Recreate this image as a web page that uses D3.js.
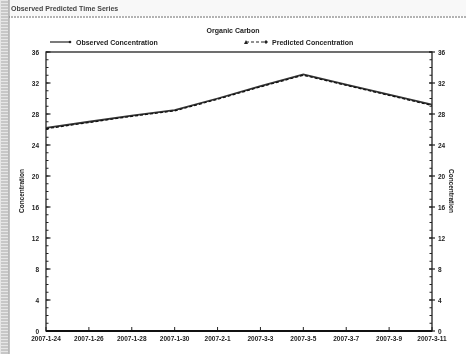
<!DOCTYPE html>
<html>
<head>
<meta charset="utf-8">
<script src="https://cdn.jsdelivr.net/npm/d3@7"></script>
<style>
  html, body { margin: 0; padding: 0; background: #fff; }
  svg { display: block; font-family: "Liberation Sans", Arial, sans-serif; filter: blur(0.35px); }
</style>
</head>
<body>
<svg id="chart" width="466" height="354"></svg>
<script>
// Sampling dates (evenly spaced categories on the x axis)
const dates = ["2007-1-24", "2007-1-26", "2007-1-28", "2007-1-30", "2007-2-1",
               "2007-3-3", "2007-3-5", "2007-3-7", "2007-3-9", "2007-3-11"];
// Organic carbon concentrations
const observed  = [26.2, 27.0, 27.8, 28.5, 30.0, 31.6, 33.1, 31.8, 30.5, 29.2];
const predicted = [26.1, 26.9, 27.7, 28.4, 29.9, 31.5, 33.0, 31.7, 30.4, 29.1];
const yTicks = [0, 4, 8, 12, 16, 20, 24, 28, 32, 36];
const yMinor = d3.range(0, 37, 1);

const svg = d3.select("#chart");
const W = 466, H = 354;
const m = { left: 46, right: 432, top: 52, bottom: 331 };

// window frame: caption strip and hatched left edge
svg.append("rect").attr("x", 0).attr("y", 0).attr("width", W).attr("height", 16).attr("fill", "#f8f8f8");
svg.append("text").attr("x", 11).attr("y", 10.5).attr("font-size", 7).attr("font-weight", "bold").attr("fill", "#444")
  .text("Observed Predicted Time Series");
svg.append("line").attr("x1", 8).attr("x2", W).attr("y1", 17).attr("y2", 17)
  .attr("stroke", "#666").attr("stroke-width", 1).attr("stroke-dasharray", "2,1");
svg.append("rect").attr("x", 0).attr("y", 0).attr("width", 9).attr("height", H).attr("fill", "#e6e6e6");
svg.append("g").selectAll("line").data(d3.range(2, H, 3)).join("line")
  .attr("x1", 1).attr("x2", 8).attr("y1", d => d).attr("y2", d => d)
  .attr("stroke", "#999").attr("stroke-width", 0.8);
svg.append("line").attr("x1", 9).attr("x2", 9).attr("y1", 0).attr("y2", H).attr("stroke", "#888");

const x = d3.scalePoint().domain(dates).range([m.left, m.right]);
const y = d3.scaleLinear().domain([0, 36]).range([m.bottom, m.top]);

// plot frame
svg.append("rect").attr("x", m.left).attr("y", m.top)
  .attr("width", m.right - m.left).attr("height", m.bottom - m.top)
  .attr("fill", "none").attr("stroke", "#222").attr("stroke-width", 1.3);

// title
svg.append("text").attr("x", 233).attr("y", 33).attr("text-anchor", "middle")
  .attr("font-size", 7).attr("font-weight", "bold").attr("fill", "#222").text("Organic Carbon");

// legend
const lg = svg.append("g").attr("font-size", 7).attr("font-weight", "bold").attr("fill", "#222");
lg.append("line").attr("x1", 50).attr("x2", 70).attr("y1", 42).attr("y2", 42).attr("stroke", "#222").attr("stroke-width", 1.2);
lg.append("circle").attr("cx", 70).attr("cy", 42).attr("r", 1.3).attr("fill", "#222");
lg.append("text").attr("x", 76).attr("y", 44.5).text("Observed Concentration");
lg.append("line").attr("x1", 246).attr("x2", 266).attr("y1", 42).attr("y2", 42).attr("stroke", "#222")
  .attr("stroke-width", 1).attr("stroke-dasharray", "3,2");
lg.append("path").attr("d", "M244,44 L246,40 L248,44 Z").attr("fill", "#222");
lg.append("path").attr("d", "M266,40 L268,42 L266,44 L264,42 Z").attr("fill", "#222");
lg.append("text").attr("x", 272).attr("y", 44.5).text("Predicted Concentration");

// left axis: minor and major ticks pointing inward
const ax = svg.append("g");
ax.selectAll("line.minL").data(yMinor).join("line")
  .attr("x1", m.left).attr("x2", m.left + 2.5).attr("y1", d => y(d)).attr("y2", d => y(d))
  .attr("stroke", "#222").attr("stroke-width", 1);
ax.selectAll("line.majL").data(yTicks).join("line")
  .attr("x1", m.left).attr("x2", m.left + 4.5).attr("y1", d => y(d)).attr("y2", d => y(d))
  .attr("stroke", "#222").attr("stroke-width", 1.2);
ax.selectAll("text.lblL").data(yTicks).join("text")
  .attr("x", 39).attr("y", d => y(d) + 2.5).attr("text-anchor", "end")
  .attr("font-size", 6.5).attr("font-weight", "bold").attr("fill", "#222").text(d => d);

// right axis
ax.selectAll("line.minR").data(yMinor).join("line")
  .attr("x1", m.right - 2.5).attr("x2", m.right).attr("y1", d => y(d)).attr("y2", d => y(d))
  .attr("stroke", "#222").attr("stroke-width", 1);
ax.selectAll("line.majR").data(yTicks).join("line")
  .attr("x1", m.right - 3).attr("x2", m.right + 3).attr("y1", d => y(d)).attr("y2", d => y(d))
  .attr("stroke", "#222").attr("stroke-width", 1.2);
ax.selectAll("text.lblR").data(yTicks).join("text")
  .attr("x", 438).attr("y", d => y(d) + 2.5).attr("text-anchor", "start")
  .attr("font-size", 6.5).attr("font-weight", "bold").attr("fill", "#222").text(d => d);

// axis titles
svg.append("text").attr("transform", "translate(24,191) rotate(-90)").attr("text-anchor", "middle")
  .attr("font-size", 6.5).attr("font-weight", "bold").attr("fill", "#222").text("Concentration");
svg.append("text").attr("transform", "translate(449,191) rotate(90)").attr("text-anchor", "middle")
  .attr("font-size", 6.5).attr("font-weight", "bold").attr("fill", "#222").text("Concentration");

// bottom axis
ax.selectAll("line.xt").data(dates).join("line")
  .attr("x1", d => x(d)).attr("x2", d => x(d)).attr("y1", m.bottom).attr("y2", m.bottom - 4)
  .attr("stroke", "#222").attr("stroke-width", 1);
ax.selectAll("text.xl").data(dates).join("text")
  .attr("x", d => x(d)).attr("y", 341).attr("text-anchor", "middle")
  .attr("font-size", 6.5).attr("font-weight", "bold").attr("fill", "#222").text(d => d);
svg.append("line").attr("x1", m.left).attr("x2", m.right).attr("y1", m.bottom).attr("y2", m.bottom)
  .attr("stroke", "#111").attr("stroke-width", 1.8);

// series
const line = d3.line().x((d, i) => x(dates[i])).y(d => y(d));
svg.append("path").datum(observed).attr("d", line).attr("fill", "none")
  .attr("stroke", "#333").attr("stroke-width", 1.8);
svg.append("path").datum(predicted).attr("d", line).attr("fill", "none")
  .attr("stroke", "#111").attr("stroke-width", 1.2).attr("stroke-dasharray", "3,2");
</script>
</body>
</html>
